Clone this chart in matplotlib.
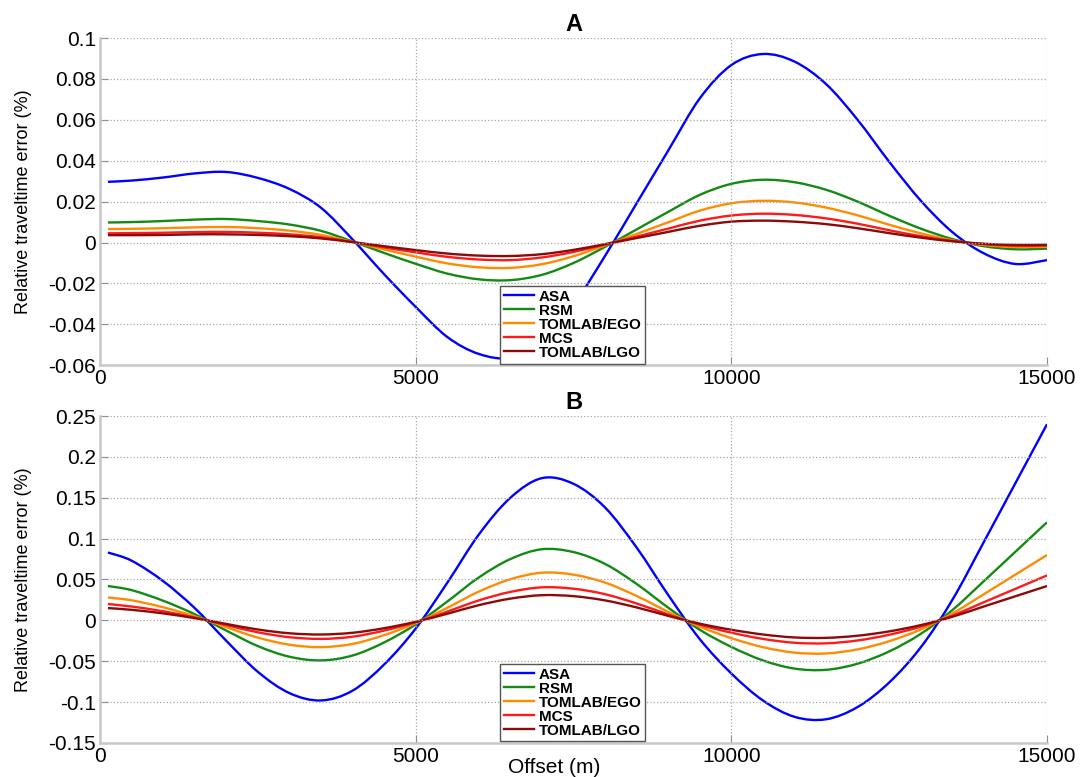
import numpy as np
import matplotlib
matplotlib.use("Agg")
import matplotlib.pyplot as plt
from matplotlib.path import Path
from matplotlib.patches import PathPatch
from matplotlib.lines import Line2D
from matplotlib.ticker import FuncFormatter

plt.rcParams['font.family'] = ['Liberation Sans', 'DejaVu Sans']

# offsets (m) at which the curves were read
offset = [125, 500, 1000, 1500, 2000, 2500, 3000, 3500, 4000, 4500, 5000,
          5500, 6000, 6500, 7000, 7500, 8000, 8500, 9000, 9500, 10000,
          10500, 11000, 11500, 12000, 12500, 13000, 13500, 14000, 14500, 15000]

labels = ['ASA', 'RSM', 'TOMLAB/EGO', 'MCS', 'TOMLAB/LGO']
colors = ['#0000ff', '#138a13', '#ff8c00', '#ff1a1a', '#8b0a0a']

# panel A
asa_a = [0.0297, 0.0303, 0.0318, 0.0338, 0.0345, 0.0316, 0.0262, 0.0170, 0.0015, -0.0155, -0.0315,
         -0.0462, -0.0545, -0.0563, -0.0483, -0.0305, -0.0065, 0.0192, 0.0450, 0.0705, 0.0868,
         0.0922, 0.0885, 0.0775, 0.0600, 0.0395, 0.0205, 0.0051, -0.0053, -0.0105, -0.0086]
rsm_a = [0.0098, 0.0100, 0.0105, 0.0112, 0.0115, 0.0105, 0.0088, 0.0057, 0.0005, -0.0051, -0.0104,
         -0.0152, -0.0180, -0.0184, -0.0158, -0.0100, -0.0021, 0.0064, 0.0150, 0.0233, 0.0287,
         0.0307, 0.0295, 0.0258, 0.0200, 0.0131, 0.0068, 0.0017, -0.0018, -0.0033, -0.0030]
ego_a = [0.0066, 0.0067, 0.0070, 0.0074, 0.0076, 0.0070, 0.0058, 0.0037, 0.0003, -0.0034, -0.0069,
         -0.0102, -0.0121, -0.0124, -0.0106, -0.0067, -0.0014, 0.0042, 0.0099, 0.0156, 0.0192,
         0.0204, 0.0196, 0.0171, 0.0133, 0.0087, 0.0045, 0.0011, -0.0012, -0.0022, -0.0020]
mcs_a = [0.0045, 0.0046, 0.0048, 0.0051, 0.0052, 0.0048, 0.0040, 0.0026, 0.0002, -0.0024, -0.0048,
         -0.0070, -0.0083, -0.0086, -0.0073, -0.0046, -0.0010, 0.0029, 0.0068, 0.0107, 0.0132,
         0.0141, 0.0135, 0.0118, 0.0092, 0.0060, 0.0031, 0.0008, -0.0008, -0.0016, -0.0015]
lgo_a = [0.0036, 0.0036, 0.0037, 0.0040, 0.0040, 0.0037, 0.0031, 0.0020, 0.0002, -0.0018, -0.0037,
         -0.0054, -0.0064, -0.0066, -0.0057, -0.0036, -0.0008, 0.0022, 0.0052, 0.0082, 0.0102,
         0.0107, 0.0102, 0.0090, 0.0070, 0.0046, 0.0024, 0.0006, -0.0006, -0.0012, -0.0011]

# panel B
asa_b = [0.083, 0.073, 0.048, 0.015, -0.025, -0.063, -0.089, -0.098, -0.086, -0.054, -0.010,
         0.046, 0.105, 0.150, 0.174, 0.167, 0.138, 0.089, 0.031, -0.023, -0.065,
         -0.098, -0.118, -0.121, -0.106, -0.076, -0.033, 0.025, 0.096, 0.168, 0.240]
rsm_b = [0.042, 0.037, 0.024, 0.0075, -0.0125, -0.0315, -0.0445, -0.049, -0.043, -0.027, -0.005,
         0.023, 0.0525, 0.075, 0.087, 0.0835, 0.069, 0.0445, 0.0155, -0.0115, -0.0325,
         -0.049, -0.059, -0.0605, -0.053, -0.038, -0.0165, 0.0125, 0.048, 0.084, 0.120]
ego_b = [0.028, 0.0245, 0.016, 0.005, -0.0084, -0.0211, -0.0298, -0.0328, -0.0288, -0.0181, -0.0034,
         0.0154, 0.0352, 0.0503, 0.0583, 0.0559, 0.0462, 0.0298, 0.0104, -0.0077, -0.0218,
         -0.0328, -0.0395, -0.0405, -0.0355, -0.0255, -0.0111, 0.0084, 0.032, 0.056, 0.080]
mcs_b = [0.020, 0.0169, 0.0111, 0.0035, -0.0058, -0.0146, -0.0206, -0.0227, -0.020, -0.0125, -0.0023,
         0.0107, 0.0244, 0.0348, 0.0404, 0.0387, 0.032, 0.0206, 0.0072, -0.0053, -0.0151,
         -0.0227, -0.0274, -0.0281, -0.0246, -0.0176, -0.0077, 0.0058, 0.0222, 0.0386, 0.055]
lgo_b = [0.015, 0.0129, 0.0085, 0.0027, -0.0044, -0.0112, -0.0158, -0.0173, -0.0152, -0.0096, -0.0018,
         0.0081, 0.0186, 0.0266, 0.0308, 0.0296, 0.0244, 0.0158, 0.0055, -0.0041, -0.0115,
         -0.0173, -0.0209, -0.0214, -0.0188, -0.0135, -0.0058, 0.0044, 0.0170, 0.0295, 0.042]

yticks_a = [-0.06, -0.04, -0.02, 0, 0.02, 0.04, 0.06, 0.08, 0.1]
yticks_b = [-0.15, -0.1, -0.05, 0, 0.05, 0.1, 0.15, 0.2, 0.25]
xticks = [0, 5000, 10000, 15000]


def smooth_path(x, y):
    # curve through the read points (Catmull-Rom drawn as cubic Bezier segments)
    x = np.asarray(x, float)
    y = np.asarray(y, float)
    n = len(x)
    verts = [(x[0], y[0])]
    codes = [Path.MOVETO]
    for i in range(n - 1):
        i0, i3 = max(i - 1, 0), min(i + 2, n - 1)
        c1 = (x[i] + (x[i + 1] - x[i0]) / 6, y[i] + (y[i + 1] - y[i0]) / 6)
        c2 = (x[i + 1] - (x[i3] - x[i]) / 6, y[i + 1] - (y[i3] - y[i]) / 6)
        verts += [c1, c2, (x[i + 1], y[i + 1])]
        codes += [Path.CURVE4] * 3
    return Path(verts, codes)


def style_axes(ax, yticks, title):
    ax.set_xlim(0, 15000)
    ax.set_ylim(yticks[0], yticks[-1])
    ax.set_xticks(xticks)
    ax.set_yticks(yticks)
    ax.yaxis.set_major_formatter(FuncFormatter(lambda v, p: '%g' % v))
    ax.grid(True, linestyle=':', color='#a8a8a8', linewidth=0.9)
    for side in ['top', 'right']:
        ax.spines[side].set_visible(False)
    for side in ['left', 'bottom']:
        ax.spines[side].set_color('#c8c8c8')
        ax.spines[side].set_linewidth(1.8)
    ax.tick_params(direction='in', length=6, color='#909090', labelsize=15, pad=3)
    ax.set_ylabel('Relative traveltime error (%)', fontsize=13)
    ax.yaxis.set_label_coords(-0.072, 0.5)
    ax.set_title(title, fontsize=17, fontweight='bold', pad=5)


def draw_panel(ax, series):
    handles = []
    for vals, lab, col in zip(series, labels, colors):
        ax.add_patch(PathPatch(smooth_path(offset, vals), facecolor='none',
                               edgecolor=col, linewidth=1.7))
        handles.append(Line2D([], [], color=col, linewidth=1.7, label=lab))
    leg = ax.legend(handles=handles, loc='lower center', bbox_to_anchor=(0.499, 0.0),
                    prop={'weight': 'bold', 'size': 11}, frameon=True, fancybox=False,
                    framealpha=1, edgecolor='#555555', handlelength=2.0, handletextpad=0.3,
                    labelspacing=0.0, borderpad=0.25, borderaxespad=0.1)
    leg.get_frame().set_linewidth(1.0)


fig = plt.figure(figsize=(10.85, 7.77), dpi=100)
ax_a = fig.add_axes([0.0922, 0.530, 0.8728, 0.421])
ax_b = fig.add_axes([0.0922, 0.0438, 0.8728, 0.4208])

draw_panel(ax_a, [asa_a, rsm_a, ego_a, mcs_a, lgo_a])
style_axes(ax_a, yticks_a, 'A')

draw_panel(ax_b, [asa_b, rsm_b, ego_b, mcs_b, lgo_b])
style_axes(ax_b, yticks_b, 'B')
fig.text(0.511, 0.0116, 'Offset (m)', fontsize=15, ha='center', va='center')

fig.savefig('out.png', dpi=100)
